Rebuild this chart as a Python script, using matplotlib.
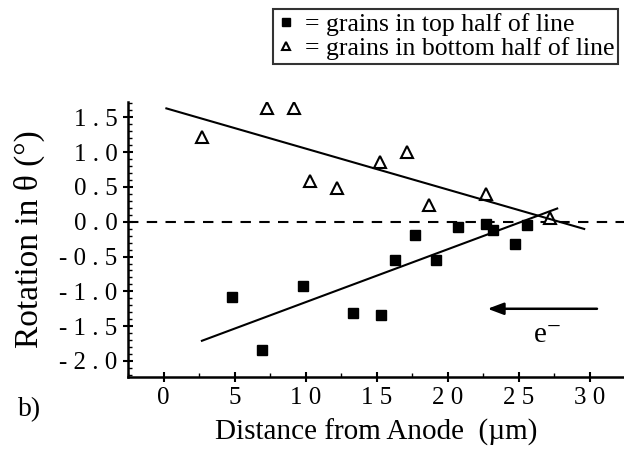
import numpy as np
import matplotlib
matplotlib.use("Agg")
import matplotlib.pyplot as plt
from matplotlib.ticker import MultipleLocator, FixedLocator, FixedFormatter

plt.rcParams['font.family'] = ['Liberation Serif', 'DejaVu Serif']
plt.rcParams['mathtext.fontset'] = 'stix'

# data: grains in top half of line (squares)
top_x = [4.8, 6.9, 9.8, 13.3, 15.3, 16.3, 17.7, 19.2, 20.7, 22.7, 23.2, 24.7, 25.6]
top_y = [-1.08, -1.84, -0.93, -1.31, -1.34, -0.55, -0.19, -0.55, -0.07, -0.03, -0.12, -0.32, -0.04]
# grains in bottom half of line (triangles)
bot_x = [2.7, 7.25, 9.2, 10.3, 12.2, 15.2, 17.1, 18.7, 22.7, 27.2]
bot_y = [1.22, 1.64, 1.64, 0.58, 0.49, 0.86, 1.00, 0.24, 0.40, 0.05]
# linear fits: slope, intercept, x-range
fit_bot = (-0.0589, 1.64, 0.2, 29.6)
fit_top = (0.076, -1.915, 2.7, 27.7)

xticks = [0, 5, 10, 15, 20, 25, 30]
xticklabels = ["0", "5", "1 0", "1 5", "2 0", "2 5", "3 0"]
yticks = [-2.0, -1.5, -1.0, -0.5, 0.0, 0.5, 1.0, 1.5]
yticklabels = ["- 2 . 0", "- 1 . 5", "- 1 . 0", "- 0 . 5", "0 . 0", "0 . 5", "1 . 0", "1 . 5"]

fig = plt.figure(figsize=(6.24, 4.54), dpi=100)
ax = fig.add_axes([128/624, 77/454, 1 - 128/624, 275/454])
ax.set_xlim(-2.5, 32.4)
ax.set_ylim(-2.23, 1.72)

for s in ['top', 'right']:
    ax.spines[s].set_visible(False)
for s in ['left', 'bottom']:
    ax.spines[s].set_linewidth(1.8)

ax.axhline(0, color='black', ls=(0, (5, 4)), lw=1.5)

ax.plot(top_x, top_y, 's', color='black', ms=7.5, ls='none',
        label='= grains in top half of line')
ax.plot(bot_x, bot_y, '^', mfc='white', mec='black', mew=1.5, ms=8.5, ls='none',
        label='= grains in bottom half of line')

for m, b, x0, x1 in (fit_bot, fit_top):
    xs = np.array([x0, x1])
    ax.plot(xs, m * xs + b, color='black', lw=1.5)

ax.annotate('', xy=(22.8, -1.25), xytext=(30.5, -1.25),
            arrowprops=dict(arrowstyle='-|>,head_length=0.8,head_width=0.3',
                            color='black', lw=1.8, mutation_scale=12,
                            shrinkA=0, shrinkB=0))
ax.text(27.0, -1.63, r'e$^{-}$', fontsize=21, ha='center', va='center')

ax.xaxis.set_major_locator(FixedLocator(xticks))
ax.xaxis.set_major_formatter(FixedFormatter(xticklabels))
ax.xaxis.set_minor_locator(MultipleLocator(2.5))
ax.yaxis.set_major_locator(FixedLocator(yticks))
ax.yaxis.set_major_formatter(FixedFormatter(yticklabels))
ax.yaxis.set_minor_locator(MultipleLocator(0.1))
ax.tick_params(which='major', direction='inout', length=7, width=1.5, labelsize=18, pad=4)
ax.tick_params(which='minor', direction='in', length=3, width=1.0)

ax.set_xlabel('Distance from Anode  (µm)', fontsize=21, labelpad=7)
ax.set_ylabel('Rotation in θ (°)', fontsize=24, labelpad=10)

fig.text(18/624, 1 - 410/454, 'b)', fontsize=20, va='center', ha='left')

leg = fig.legend(loc='upper left', bbox_to_anchor=(273/624, 1 - 9/454),
                 fontsize=18.5, frameon=True, fancybox=False, edgecolor='black',
                 handlelength=0.7, handletextpad=0.4, borderpad=0.15,
                 labelspacing=0.05, borderaxespad=0, markerscale=0.75)
leg.get_frame().set_linewidth(1.5)

fig.savefig('out.png', dpi=100)
